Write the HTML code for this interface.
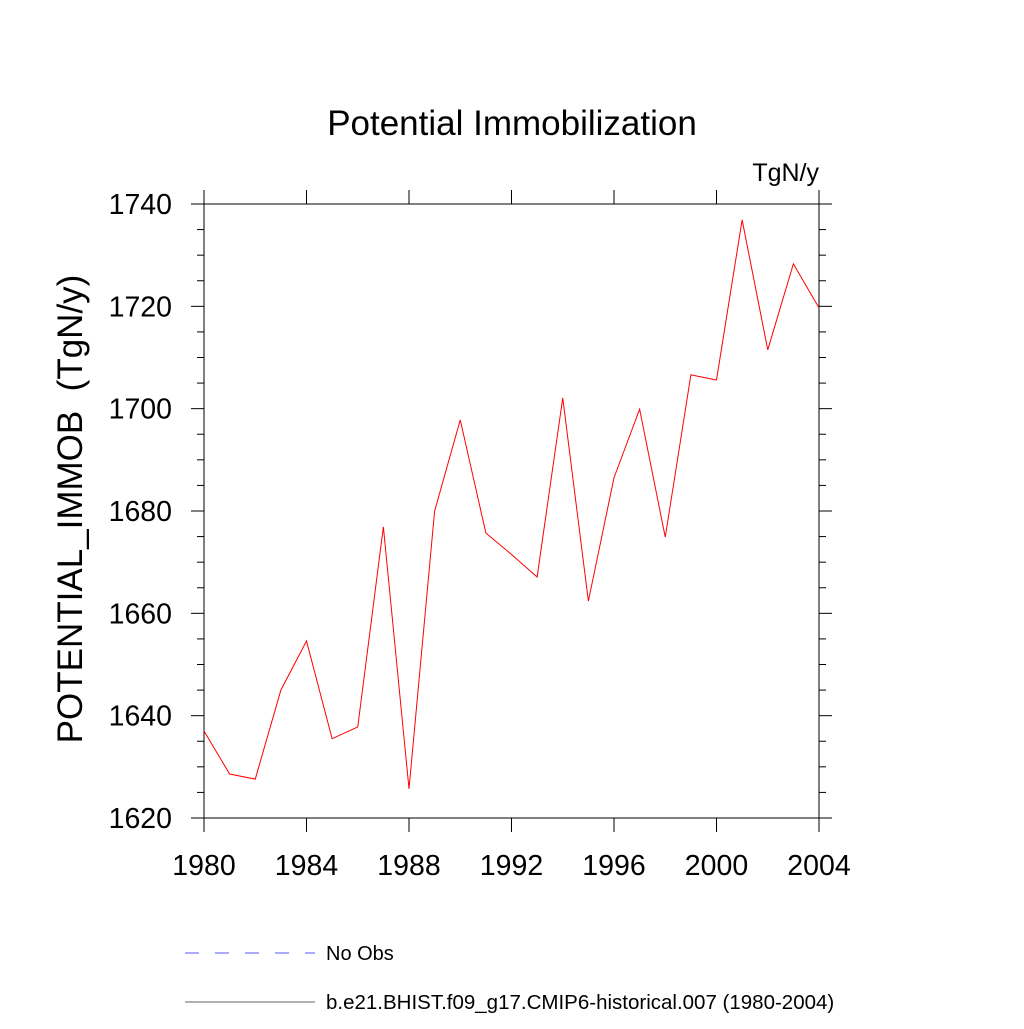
<!DOCTYPE html>
<html><head><meta charset="utf-8"><style>
body{margin:0;background:#fff}
svg text{font-family:"Liberation Sans",sans-serif;fill:#000}
</style></head><body>
<svg id="c" width="1024" height="1024" viewBox="0 0 1024 1024">
<text x="512" y="135" font-size="35" text-anchor="middle">Potential Immobilization</text>
<text x="819" y="181" font-size="25" text-anchor="end">TgN/y</text>
<text transform="translate(82,509) rotate(-90)" font-size="35" text-anchor="middle" xml:space="preserve" style="white-space:pre">POTENTIAL_IMMOB  (TgN/y)</text>
<rect x="204" y="204" width="615" height="614" fill="none" stroke="#000" stroke-width="1"/>
<g id="ticks"></g>
<polyline id="series" fill="none" stroke="#ff0000" stroke-width="1"/>
<line x1="185" y1="953" x2="315" y2="953" stroke="#5555ff" stroke-dasharray="14,16"/>
<text x="326" y="960" font-size="20">No Obs</text>
<line x1="185" y1="1002" x2="315" y2="1002" stroke="#666"/>
<text x="326" y="1009" font-size="20.5">b.e21.BHIST.f09_g17.CMIP6-historical.007 (1980-2004)</text>
</svg>
<script>
const years=[1980,1981,1982,1983,1984,1985,1986,1987,1988,1989,1990,1991,1992,1993,1994,1995,1996,1997,1998,1999,2000,2001,2002,2003,2004];
const values=[1637,1628.6,1627.6,1645,1654.6,1635.5,1637.8,1676.9,1625.7,1680,1697.8,1675.7,1671.5,1667.1,1702.1,1662.4,1686.5,1699.9,1674.9,1706.6,1705.6,1736.9,1711.5,1728.3,1719.7];
const xTicks=[1980,1984,1988,1992,1996,2000,2004];
const yTicks=[1620,1640,1660,1680,1700,1720,1740];
const NS="http://www.w3.org/2000/svg";
const X=v=>204+(v-1980)/24*615;
const Y=v=>818-(v-1620)/120*614;
document.getElementById('series').setAttribute('points',years.map((y,i)=>X(y)+','+Y(values[i])).join(' '));
const g=document.getElementById('ticks');
function ln(x1,y1,x2,y2,name){const l=document.createElementNS(NS,'line');l.setAttribute('x1',x1);l.setAttribute('y1',y1);l.setAttribute('x2',x2);l.setAttribute('y2',y2);l.setAttribute('stroke','#000');


g.appendChild(l);}
function tx(x,y,s,anchor,name){const t=document.createElementNS(NS,'text');t.setAttribute('x',x);t.setAttribute('y',y);t.setAttribute('font-size','28.5');t.setAttribute('text-anchor',anchor);t.textContent=s;


g.appendChild(t);}
xTicks.forEach(v=>{const x=X(v);ln(x,818,x,832,'x-tick');ln(x,204,x,190,'x-tick-top');tx(x,875,v,'middle','x-tick-label');});
for(let v=1620;v<=1740;v+=5){const y=Y(v);const major=v%20===0;const L=major?13:7;ln(204,y,204-L,y,'y-tick');ln(819,y,819+L,y,'y-tick-right');}
yTicks.forEach(v=>tx(172,Y(v)+10,v,'end','y-tick-label'));
</script>
</body></html>
